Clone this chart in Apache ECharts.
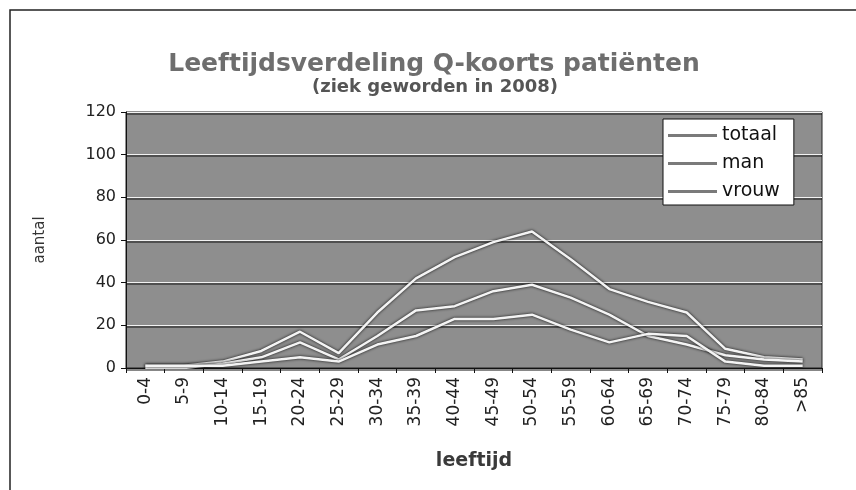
<!DOCTYPE html>
<html>
<head>
<meta charset="utf-8">
<script src="https://cdn.jsdelivr.net/npm/echarts@6/dist/echarts.min.js"></script>
<style>html,body{margin:0;padding:0;background:#fff;}#c{width:856px;height:490px;}</style>
</head>
<body>
<div id="c"></div>
<script>
const categories = ['0-4','5-9','10-14','15-19','20-24','25-29','30-34','35-39','40-44','45-49','50-54','55-59','60-64','65-69','70-74','75-79','80-84','>85'];
const totaal = [1, 1, 3, 8, 17, 7, 26, 42, 52, 59, 64, 51, 37, 31, 26, 9, 5, 4];
const man    = [0, 0, 2, 5, 12, 4, 15, 27, 29, 36, 39, 33, 25, 15, 11, 6, 4, 3];
const vrouw  = [1, 1, 1, 3, 5, 3, 11, 15, 23, 23, 25, 18, 12, 16, 15, 3, 1, 1];
const yTicks = [0, 20, 40, 60, 80, 100, 120];

const font = 'DejaVu Sans, Verdana, sans-serif';
const chart = echarts.init(document.getElementById('c'), null, {renderer: 'canvas'});
const lineSeries = (name, data) => ({
  name, type: 'line', data, showSymbol: false, symbol: 'none',
  lineStyle: {color: '#f4f4f4', width: 2.5, shadowColor: 'rgba(0,0,0,0.95)', shadowBlur: 3},
  itemStyle: {color: '#f4f4f4'}
});
chart.setOption({
  backgroundColor: '#ffffff',
  animation: false,
  title: [
    {text: 'Leeftijdsverdeling Q-koorts patiënten', left: 429, top: 47, textAlign: 'center',
     textStyle: {fontFamily: font, fontSize: 25, fontWeight: 'bold', color: '#6e6e6e'}},
    {text: '(ziek geworden in 2008)', left: 430, top: 73, textAlign: 'center',
     textStyle: {fontFamily: font, fontSize: 18, fontWeight: 'bold', color: '#555'}}
  ],
  grid: {left: 126, right: 34, top: 112, bottom: 122, show: true, backgroundColor: '#8e8e8e', borderColor: '#222', borderWidth: 1},
  legend: {
    left: 663, top: 119, orient: 'vertical',
    backgroundColor: '#fff', borderColor: '#111', borderWidth: 1,
    padding: [7, 14, 4, 5], itemWidth: 49, itemHeight: 3, itemGap: 9,
    icon: 'rect',
    itemStyle: {color: '#7a7a7a', borderWidth: 0},
    lineStyle: {color: '#7a7a7a', width: 2, shadowBlur: 0, shadowColor: 'transparent'},
    textStyle: {fontFamily: font, fontSize: 19, color: '#111', lineHeight: 19},
    data: ['totaal', 'man', 'vrouw']
  },
  xAxis: {
    type: 'category', data: categories, boundaryGap: true,
    name: 'leeftijd', nameLocation: 'middle', nameGap: 84,
    nameTextStyle: {fontFamily: font, fontSize: 19, fontWeight: 'bold', color: '#3a3a3a'},
    axisLine: {lineStyle: {color: '#111', width: 1}},
    axisTick: {show: true, length: 5, lineStyle: {color: '#111'}},
    axisLabel: {rotate: 90, fontFamily: font, fontSize: 17, color: '#222', margin: 9, interval: 0}
  },
  yAxis: {
    type: 'value', min: 0, max: 120, interval: 20,
    name: 'aantal', nameLocation: 'middle', nameGap: 78, nameRotate: 90,
    nameTextStyle: {fontFamily: font, fontSize: 15, color: '#333'},
    axisLine: {show: true, lineStyle: {color: '#111', width: 1}},
    axisTick: {show: true, length: 5, lineStyle: {color: '#111'}},
    axisLabel: {fontFamily: font, fontSize: 16, color: '#222', margin: 10,
      formatter: v => yTicks.includes(v) ? String(v) : ''},
    splitLine: {show: true, lineStyle: {color: '#f2f2f2', width: 1, shadowColor: '#111', shadowOffsetY: 1.5}}
  },
  graphic: [{
    type: 'polyline', shape: {points: [[10, 490], [10, 10], [856, 10]]},
    style: {stroke: '#222', lineWidth: 1.5, fill: null}, silent: true
  }],
  series: [lineSeries('totaal', totaal), lineSeries('man', man), lineSeries('vrouw', vrouw)]
});
</script>
</body>
</html>
